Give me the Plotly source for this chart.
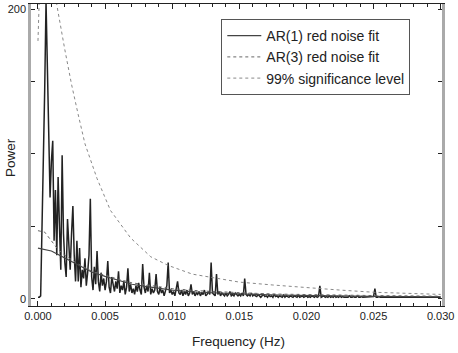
import numpy as np
import plotly.graph_objects as go

# Spectrum: frequency grid 0..0.030 Hz, step 0.0001
freq = np.round(np.arange(0, 301) * 0.0001, 4)
power = [
    1, 1, 2, 47, 90, 144, 205, 150, 120, 70,
    95, 109, 40, 75, 30, 84, 50, 20, 99, 45,
    25, 15, 55, 35, 20, 45, 64, 30, 12, 40,
    12, 35, 8, 20, 14, 28, 9, 18, 30, 69,
    15, 6, 22, 10, 33, 12, 5, 18, 9, 14,
    6, 12, 26, 8, 4, 15, 10, 5, 12, 7,
    19, 4, 9, 6, 12, 3, 8, 21, 5, 10,
    4, 7, 3, 9, 5, 11, 6, 3, 24, 8,
    4, 9, 5, 18, 3, 7, 4, 6, 17, 5,
    3, 8, 4, 6, 2, 5, 9, 25, 4, 6,
    3, 5, 2, 7, 12, 4, 3, 6, 2, 5,
    3, 6, 2, 4, 10, 3, 5, 2, 4, 3,
    5, 2, 4, 3, 6, 2, 3, 5, 3, 25,
    4, 3, 2, 17, 3, 5, 2, 4, 3, 2,
    4, 2, 3, 5, 2, 3, 2, 4, 3, 2,
    3, 2, 4, 2, 14, 3, 2, 3, 2, 4,
    2, 3, 2, 1.5, 3, 2, 1, 2, 3, 1.5,
    2, 1, 2.5, 1.5, 2, 1, 3, 1.5, 2, 1,
    2, 1.5, 1, 2.5, 1, 2, 1.5, 1, 2, 1.5,
    1, 2, 1.5, 1, 2.5, 1, 1.5, 2, 1, 1.5,
    2, 1, 1.5, 1, 2, 1.5, 1, 2, 1, 1.5,
    9, 1, 1.5, 2, 1, 1.5, 1, 2, 1, 1.5,
    1, 2, 1, 1.5, 1, 2, 1, 1.5, 1, 1,
    1.5, 1, 2, 1, 1, 1.5, 1, 1, 2, 1,
    1, 1.5, 1, 1, 1.5, 1, 1, 1.5, 1, 1,
    1.5, 7, 1, 1, 1.5, 1, 1, 1, 1.5, 1,
    1, 1, 1.5, 1, 1, 1, 1.5, 1, 1, 1,
    1.5, 1, 1, 1, 1.5, 1, 1, 1, 1, 1.5,
    1, 1, 1, 1.5, 1, 1, 1, 1, 1.5, 1,
    1, 1, 1, 1.5, 1, 1, 1, 1, 1, 1, 1,
]

# Red noise fits
fit_freq = [0, 0.0005, 0.001, 0.0015, 0.002, 0.003, 0.004, 0.005, 0.006, 0.007,
            0.008, 0.010, 0.012, 0.014, 0.016, 0.018, 0.020, 0.025, 0.030]
ar1_fit = [35, 34, 33, 30.5, 28, 23, 18.5, 15.5, 12.5, 10,
           8.5, 6, 4.5, 3.5, 3, 2.5, 2.2, 1.6, 1.3]
ar3_fit = [47, 46, 40, 34, 30, 24, 19, 16, 13.5, 11,
           9.5, 7, 5.5, 4.5, 3.8, 3.2, 2.8, 2.2, 1.8]

# 99% significance level
sig_freq = [0, 0.0005, 0.001, 0.0014, 0.002, 0.0025, 0.003, 0.0035, 0.0044, 0.0054,
            0.0069, 0.0084, 0.0097, 0.0115, 0.0131, 0.015, 0.0175, 0.020, 0.0225,
            0.025, 0.0275, 0.030]
sig99 = [178, 330, 240, 203, 172, 148, 127, 107, 83, 61,
         42, 29, 23, 17, 14.5, 11.5, 9.5, 7.6, 6,
         4.5, 3.5, 3]

x_ticks = [0, 0.005, 0.010, 0.015, 0.020, 0.025, 0.030]
x_ticktext = ["0.000", "0.005", "0.010", "0.015", "0.020", "0.025", "0.030"]
y_ticks = [0, 200]

FONT = "Liberation Sans, Arial, sans-serif"

fig = go.Figure()
fig.add_trace(go.Scatter(x=freq, y=power, mode="lines", showlegend=False, hoverinfo="skip",
                         line=dict(color="#222222", width=1.5)))
fig.add_trace(go.Scatter(x=fit_freq, y=ar1_fit, mode="lines", name="AR(1) red noise fit",
                         hoverinfo="skip", line=dict(color="#444444", width=1.2)))
fig.add_trace(go.Scatter(x=fit_freq, y=ar3_fit, mode="lines", name="AR(3) red noise fit",
                         hoverinfo="skip", line=dict(color="#666666", width=1, dash="dot")))
fig.add_trace(go.Scatter(x=sig_freq, y=sig99, mode="lines", name="99% significance level",
                         hoverinfo="skip", line=dict(color="#888888", width=1, dash="dot")))

fig.update_layout(
    width=458, height=353,
    margin=dict(l=31, r=16, t=4, b=47),
    paper_bgcolor="white", plot_bgcolor="white",
    font=dict(family=FONT, color="#222", size=11),
    legend=dict(x=0.463, y=0.95, xanchor="left", yanchor="top",
                bgcolor="white", bordercolor="#555", borderwidth=1,
                itemwidth=34, tracegroupgap=0,
                font=dict(size=14, color="#222")),
    xaxis=dict(range=[-0.00052, 0.0301], tickvals=x_ticks, ticktext=x_ticktext,
               ticks="inside", ticklen=5, tickcolor="#222", showgrid=False, zeroline=False,
               showline=True, linecolor="#222", linewidth=1, mirror="ticks",
               minor=dict(dtick=0.001, tick0=0, ticks="inside", ticklen=3, tickcolor="#222", showgrid=False),
               tickfont=dict(size=11)),
    yaxis=dict(range=[-5, 203.5], tickvals=y_ticks, ticks="inside", ticklen=4, tickcolor="#222",
               showgrid=False, zeroline=False,
               showline=True, linecolor="#aaaaaa", linewidth=2.5, mirror="ticks",
               minor=dict(tickvals=[50, 100, 150], ticks="inside", ticklen=4, tickcolor="#222", showgrid=False),
               tickfont=dict(size=11)),
    annotations=[
        dict(text="Power", xref="paper", yref="paper", x=-0.051, y=0.49,
             xanchor="center", yanchor="middle",
             textangle=-90, showarrow=False, font=dict(size=13.5, family=FONT, color="#222")),
        dict(text="Frequency (Hz)", xref="paper", yref="paper", x=0.505, y=-0.119,
             xanchor="center", yanchor="middle",
             showarrow=False, font=dict(size=13.5, family=FONT, color="#222")),
    ],
)

fig.write_html("out.html", config={"displayModeBar": False},
               post_script="document.body.style.margin='0';")
